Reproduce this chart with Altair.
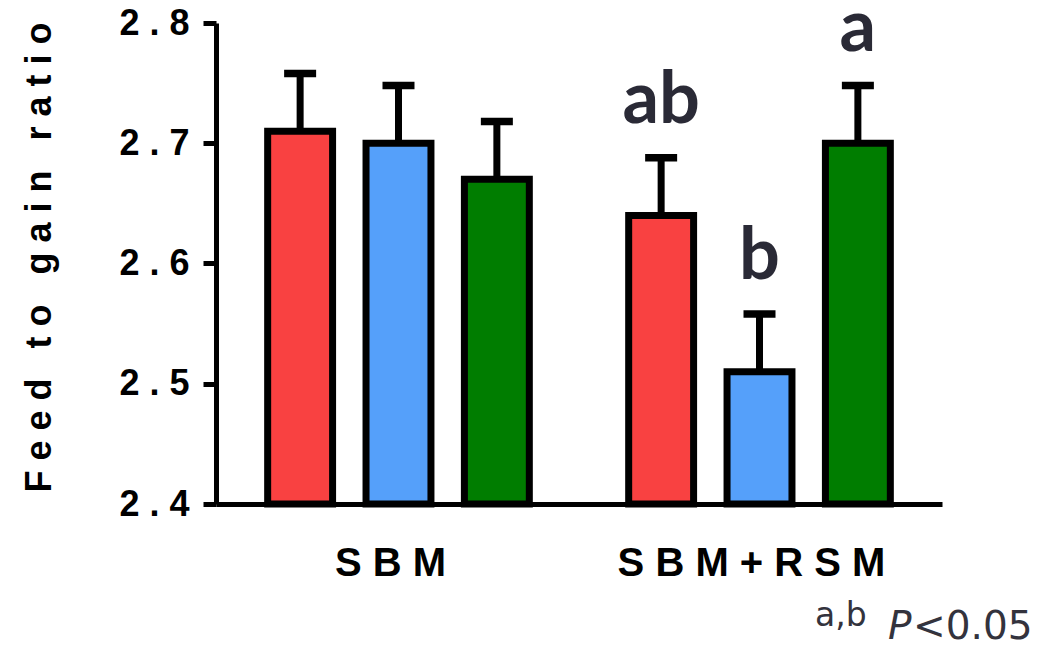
import altair as alt
import pandas as pd

# ---- data ----
groups = ["S B M", "S B M", "S B M", "S B M + R S M", "S B M + R S M", "S B M + R S M"]
treatments = ["T1", "T2", "T3", "T1", "T2", "T3"]
means = [2.71, 2.70, 2.67, 2.64, 2.51, 2.70]
uppers = [2.758, 2.748, 2.718, 2.688, 2.558, 2.748]
letters = ["", "", "", "ab", "b", "a"]

group_order = ["S B M", "S B M + R S M"]
treat_order = ["T1", "T2", "T3"]
treat_colors = ["#F94141", "#55A0FA", "#007D00"]

y_ticks = [2.4, 2.5, 2.6, 2.7, 2.8]
y_base = 2.4

NB = "\u00a0"
y_title = f"F e e d {NB} t o {NB} g a i n {NB} r a t i o"

df = pd.DataFrame({
    "group": groups,
    "treat": treatments,
    "mean": means,
    "upper": uppers,
    "letter": letters,
})

x_enc = alt.X("group:N", sort=group_order,
              scale=alt.Scale(paddingInner=0.2, paddingOuter=0.1055),
              axis=alt.Axis(title=None, labelAngle=0, ticks=False, labelLimit=600,
                            labelFont="Liberation Sans", labelFontWeight="bold",
                            labelFontSize=40, labelColor="black", labelPadding=39,
                            labelOffset=-8,
                            domainColor="black", domainWidth=5))
xo_enc = alt.XOffset("treat:N", sort=treat_order,
                     scale=alt.Scale(paddingInner=0.34, paddingOuter=0.138))
y_scale = alt.Scale(domain=[2.4, 2.8], nice=False, zero=False)

y_enc = alt.Y("mean:Q", scale=y_scale,
              axis=alt.Axis(title=y_title,
                            values=y_ticks, grid=False,
                            labelExpr="replace(format(datum.value, '.1f'), '.', ' . ')",
                            labelFont="Liberation Sans", labelFontWeight="bold",
                            labelFontSize=36, labelColor="black", labelPadding=14,
                            tickSize=13, tickWidth=5, tickColor="black",
                            domainColor="black", domainWidth=5,
                            titleFont="Liberation Sans", titleFontWeight="bold",
                            titleFontSize=36, titleColor="black", titlePadding=60,
                            titleY=234))

base = alt.Chart(df)

stems = base.mark_rule(color="black", strokeWidth=7).encode(
    x=x_enc, xOffset=xo_enc, y=y_enc, y2="upper:Q")

caps = base.mark_tick(color="black", size=32, thickness=7.5, opacity=1).encode(
    x=x_enc, xOffset=xo_enc, y=alt.Y("upper:Q", scale=y_scale))

bars = base.mark_bar(stroke="black", strokeWidth=7).encode(
    x=x_enc, xOffset=xo_enc, y=y_enc, y2=alt.datum(y_base),
    color=alt.Color("treat:N", sort=treat_order,
                    scale=alt.Scale(domain=treat_order, range=treat_colors),
                    legend=None))

sig = base.mark_text(font="Lato", fontWeight="bold", fontSize=72,
                     color="#2A2A36", baseline="alphabetic", dy=-35).encode(
    x=x_enc, xOffset=xo_enc, y=alt.Y("upper:Q", scale=y_scale), text="letter:N")

note_ab = alt.Chart(pd.DataFrame({"t": ["a,b"]})).mark_text(
    font="DejaVu Sans", fontSize=33, color="#33333D", align="left",
    baseline="alphabetic").encode(x=alt.value(599), y=alt.value(603), text="t:N")
note_p = alt.Chart(pd.DataFrame({"t": ["P"]})).mark_text(
    font="DejaVu Sans", fontSize=39, fontStyle="italic", color="#33333D",
    align="left", baseline="alphabetic").encode(x=alt.value(672), y=alt.value(616), text="t:N")
note_val = alt.Chart(pd.DataFrame({"t": ["<0.05"]})).mark_text(
    font="DejaVu Sans", fontSize=39, color="#33333D",
    align="left", baseline="alphabetic").encode(x=alt.value(697), y=alt.value(616), text="t:N")

chart = alt.layer(stems, caps, bars, sig, note_ab, note_p, note_val).properties(
    width=726, height=481,
    background="white",
    autosize=alt.AutoSizeParams(type="none"),
    padding={"left": 208, "top": 15, "right": 110, "bottom": 136},
).configure_view(stroke="transparent", strokeWidth=0)

chart.save("out.html", embed_options={"renderer": "svg", "actions": False})
